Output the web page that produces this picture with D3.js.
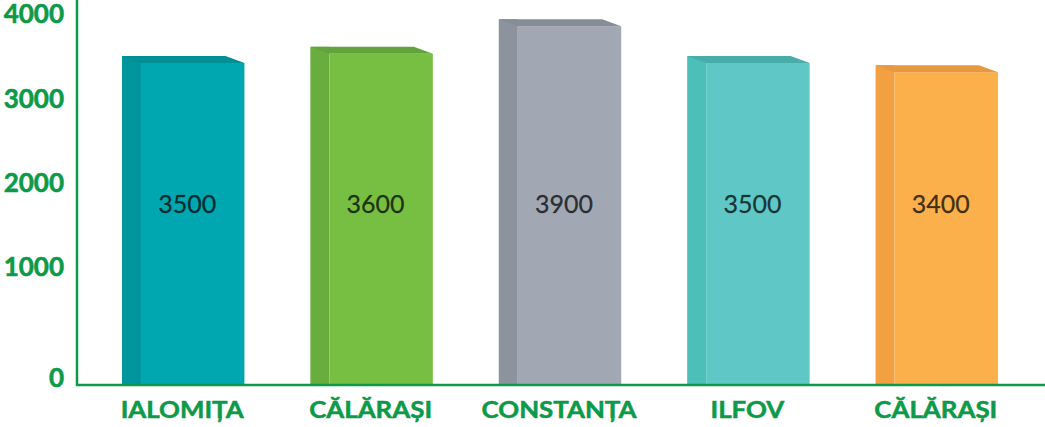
<!DOCTYPE html>
<html lang="ro">
  <head>
    <meta charset="UTF-8" />
    <title>Judete</title>
    <style>
      html, body { margin: 0; padding: 0; background: #fff; }
      svg { display: block; }
    </style>
  </head>
  <body>
    <svg id="chart" width="1045" height="427"></svg>
    <script src="https://cdn.jsdelivr.net/npm/d3@7/dist/d3.min.js"></script>
    <script>
      // data
      const categories = ["IALOMIȚA", "CĂLĂRAȘI", "CONSTANȚA", "ILFOV", "CĂLĂRAȘI"];
      const values = [3500, 3600, 3900, 3500, 3400];
      const tickValues = [0, 1000, 2000, 3000, 4000];
      const frontColors = ["#00a6b0", "#76bf43", "#a1a8b4", "#5fc8c6", "#fbb04b"];
      const sideColors = ["#00959c", "#68ad3e", "#8d939c", "#4dbfb9", "#f3a043"];
      const topColors = ["#008f94", "#62a33d", "#878d96", "#48aca8", "#e8983e"];

      const green = "#0d9a48";
      const axisX = 77;
      const baseY = 385;
      const depthX = 19;
      const depthY = 7;

      const svg = d3.select("#chart");

      const x = d3
        .scaleBand()
        .domain(d3.range(categories.length))
        .range([89, 1031])
        .paddingInner(0.35)
        .paddingOuter(0.175);

      const y = d3.scaleLinear().domain([0, 4000]).range([baseY, 17]);

      // the labels of the y axis sit a bit apart from the bar scale in the picture
      const yLabel = d3.scaleLinear().domain([0, 1000, 4000]).range([378, 267, 14]);

      const bars = svg
        .selectAll("g.bar")
        .data(values)
        .enter()
        .append("g")
        .attr("class", "bar");

      // left side face
      bars
        .append("rect")
        .attr("x", (d, i) => x(i))
        .attr("y", d => y(d) - depthY)
        .attr("width", depthX)
        .attr("height", d => baseY - y(d) + depthY)
        .attr("fill", (d, i) => sideColors[i]);

      // front face
      bars
        .append("rect")
        .attr("x", (d, i) => x(i) + depthX)
        .attr("y", d => y(d))
        .attr("width", x.bandwidth() - depthX)
        .attr("height", d => baseY - y(d))
        .attr("fill", (d, i) => frontColors[i]);

      // top face
      bars
        .append("path")
        .attr("d", (d, i) => {
          const x0 = x(i);
          const x1 = x(i) + x.bandwidth();
          const yt = y(d);
          return `M ${x0} ${yt - depthY} L ${x1 - depthX} ${yt - depthY} L ${x1} ${yt} L ${x0 + depthX} ${yt} Z`;
        })
        .attr("fill", (d, i) => topColors[i]);

      // value labels
      bars
        .append("text")
        .attr("x", (d, i) => x(i) + x.bandwidth() / 2 + 4)
        .attr("y", 213)
        .attr("text-anchor", "middle")
        .style("font-family", "Lato, 'Open Sans', sans-serif")
        .style("font-size", "25px")
        .style("fill", "#000")
        .style("fill-opacity", 0.72)
        .style("stroke", "#000")
        .style("stroke-opacity", 0.4)
        .style("stroke-width", 0.5)
        .text(d => d);

      // axes
      svg
        .append("line")
        .attr("x1", axisX)
        .attr("x2", axisX)
        .attr("y1", 0)
        .attr("y2", baseY + 1)
        .style("stroke", green)
        .style("stroke-width", 2.5);

      svg
        .append("line")
        .attr("x1", axisX - 1)
        .attr("x2", 1045)
        .attr("y1", baseY)
        .attr("y2", baseY)
        .style("stroke", green)
        .style("stroke-width", 2.5);

      svg
        .selectAll("text.tick")
        .data(tickValues)
        .enter()
        .append("text")
        .attr("class", "tick")
        .attr("x", 64)
        .attr("y", d => yLabel(d))
        .attr("dy", "0.36em")
        .attr("text-anchor", "end")
        .style("font-family", "Lato, 'Open Sans', sans-serif")
        .style("font-weight", "bold")
        .style("font-size", "26px")
        .style("fill", green)
        .style("stroke", green)
        .style("stroke-width", 0.6)
        .text(d => d);

      svg
        .selectAll("text.cat")
        .data(categories)
        .enter()
        .append("text")
        .attr("class", "cat")
        .attr("transform", (d, i) => `translate(${x(i) + x.bandwidth() / 2 - 1},418) scale(1.15,1)`)
        .attr("text-anchor", "middle")
        .style("font-family", "Lato, 'Open Sans', sans-serif")
        .style("font-weight", "bold")
        .style("font-size", "22.5px")
        .style("fill", green)
        .style("stroke", green)
        .style("stroke-width", 0.5)
        .text(d => d);
    </script>
  </body>
</html>
